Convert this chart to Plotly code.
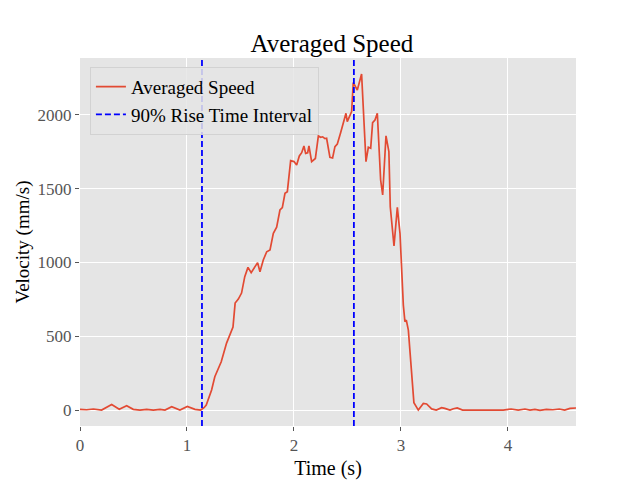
import plotly.graph_objects as go

# --- DATOS ---
tiempo = [
    0.0, 0.062, 0.125, 0.202, 0.296, 0.367, 0.436, 0.498, 0.56, 0.623,
    0.685, 0.748, 0.794, 0.857, 0.934, 1.003, 1.075, 1.128, 1.159, 1.18,
    1.23, 1.26, 1.32, 1.37, 1.43, 1.45, 1.48, 1.51, 1.54, 1.57,
    1.60, 1.636, 1.66, 1.682, 1.713, 1.745, 1.776, 1.807, 1.838, 1.869,
    1.891, 1.916, 1.938, 1.969, 2.0, 2.025, 2.05, 2.072, 2.093, 2.109,
    2.128, 2.14, 2.165, 2.2, 2.228, 2.249, 2.268, 2.29, 2.305, 2.336,
    2.361, 2.383, 2.405, 2.436, 2.461, 2.486, 2.498, 2.539, 2.554, 2.592,
    2.632, 2.673, 2.695, 2.717, 2.735, 2.757, 2.779, 2.81, 2.829, 2.86,
    2.887, 2.9, 2.935, 2.966, 2.991, 3.022, 3.037, 3.05, 3.069, 3.1,
    3.121, 3.162, 3.209, 3.24, 3.287, 3.33, 3.38, 3.41, 3.458, 3.49,
    3.526, 3.576, 3.706, 3.956, 4.03, 4.096, 4.159, 4.206, 4.252, 4.299,
    4.36, 4.42, 4.48, 4.53, 4.58, 4.636,
]
velocidad = [
    5, 2, 7, 0, 38, 5, 29, 5, 0, 5,
    0, 5, 0, 23, 0, 25, 5, 0, 16, 34,
    136, 226, 327, 454, 562, 725, 752, 793, 904, 967,
    931, 972, 999, 938, 1017, 1073, 1085, 1198, 1239, 1356,
    1372, 1469, 1480, 1690, 1684, 1661, 1722, 1744, 1790, 1740,
    1744, 1790, 1684, 1705, 1858, 1849, 1852, 1840, 1842, 1713,
    1708, 1785, 1803, 1880, 1955, 2011, 1955, 2023, 2219, 2169,
    2278, 1683, 1781, 1774, 1948, 1966, 2011, 1559, 1458, 1858,
    1751, 1378, 1112, 1374, 1198, 712, 599, 610, 542, 271,
    50, 0, 45, 41, 8, 0, 16, 11, 0, 9,
    14, 0, 0, 0, 7, 0, 7, 0, 5, -2,
    5, 2, 7, 0, 11, 14,
]
limites_subida = [1.14, 2.56]

X_RANGO = [0, 4.636]
Y_RANGO = [-108, 2386]

FUENTE = "Liberation Serif"
GRIS_TICK = "#555555"

fig = go.Figure()
fig.add_trace(go.Scatter(
    x=tiempo, y=velocidad, mode="lines", name="Averaged Speed",
    line=dict(color="#E24A33", width=1.7),
))

# lineas verticales del intervalo (una sola entrada en la leyenda)
xs, ys = [], []
for xv in limites_subida:
    xs += [xv, xv, None]
    ys += [Y_RANGO[0], Y_RANGO[1], None]
fig.add_trace(go.Scatter(
    x=xs, y=ys, mode="lines", name="90% Rise Time Interval",
    line=dict(color="#0000FF", width=1.8, dash="6px,3px"),
))

# la pagina tiene 8px de margen en body: figura de 632x472
fig.update_layout(
    width=632, height=472,
    margin=dict(l=72, r=64, t=50, b=54),
    paper_bgcolor="white", plot_bgcolor="#E5E5E5",
    font=dict(family=FUENTE, size=17, color="black"),
    title=dict(text="Averaged Speed", x=0.5125, xanchor="center",
               y=0.926, yanchor="middle", font=dict(size=25, family=FUENTE)),
    legend=dict(x=0.02, y=0.976, xanchor="left", yanchor="top",
                bgcolor="rgba(229,229,229,0.85)", bordercolor="#d2d2d2",
                borderwidth=1, font=dict(size=19, family=FUENTE),
                tracegroupgap=0, entrywidth=195, entrywidthmode="pixels"),
    showlegend=True,
)
fig.update_xaxes(
    range=X_RANGO, tickvals=[0, 1, 2, 3, 4], showgrid=True, gridcolor="white",
    gridwidth=1, zeroline=False, showline=False, ticks="outside", ticklen=4,
    tickcolor=GRIS_TICK, tickfont=dict(color=GRIS_TICK, size=17),
    automargin=False,
    title=dict(text="Time (s)", font=dict(size=20), standoff=6),
)
fig.update_yaxes(
    range=Y_RANGO, tickvals=[0, 500, 1000, 1500, 2000], showgrid=True,
    gridcolor="white", gridwidth=1, zeroline=False, showline=False,
    ticks="outside", ticklen=4, tickcolor=GRIS_TICK,
    tickfont=dict(color=GRIS_TICK, size=17),
    automargin=False,
    title=dict(text="Velocity (mm/s)", font=dict(size=19), standoff=2),
)

fig.write_html("out.html")
